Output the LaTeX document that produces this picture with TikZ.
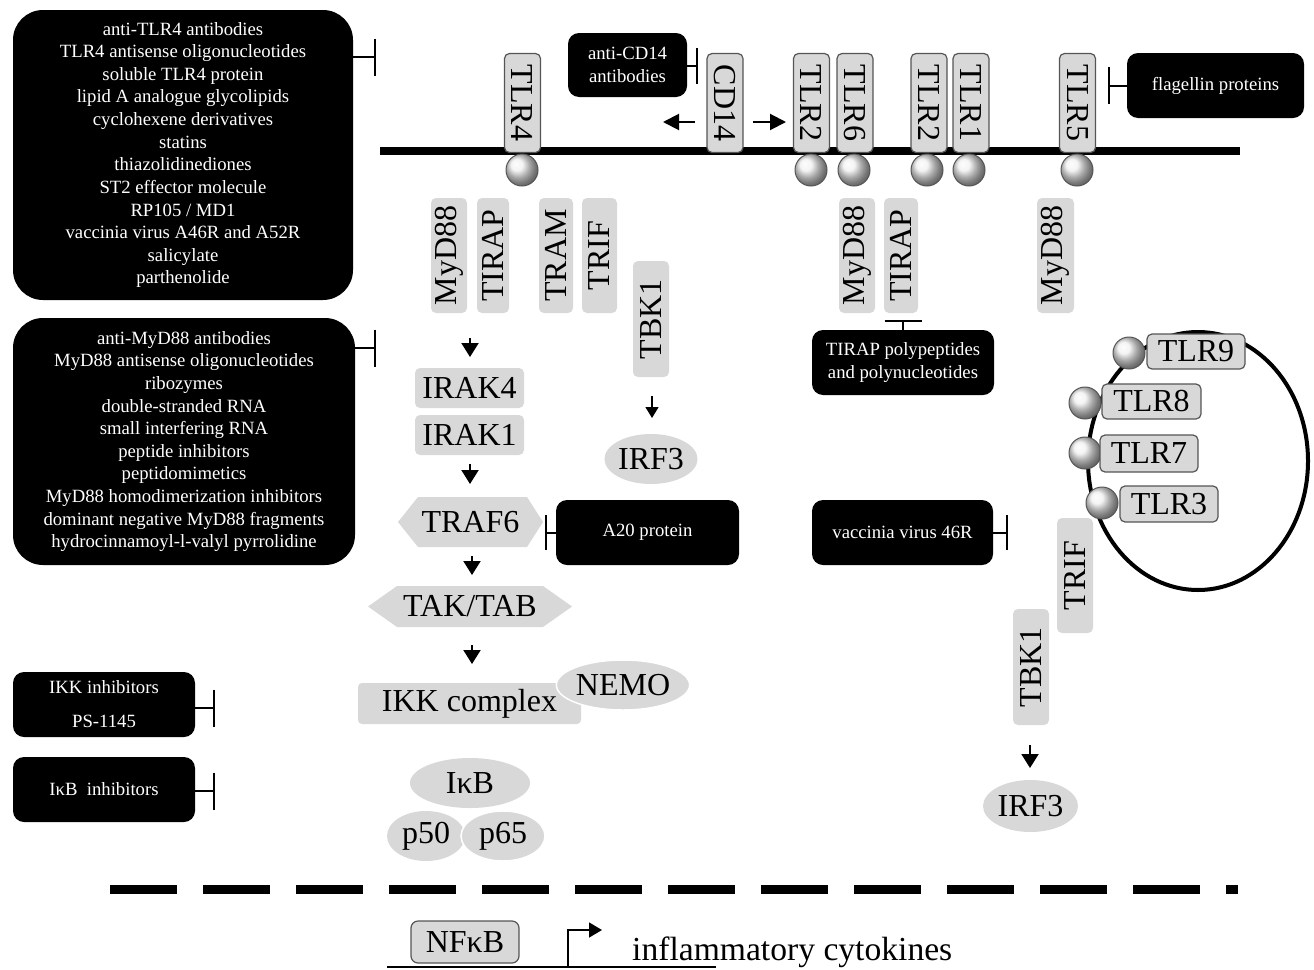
\documentclass[tikz,border=0pt]{standalone}
\usepackage{fontspec}
\setmainfont{Liberation Serif}
\usetikzlibrary{arrows.meta,shapes.geometric,calc}
\definecolor{boxgray}{RGB}{216,216,216}
\definecolor{edgegray}{RGB}{85,85,85}
\newcommand\bigf{\fontsize{32}{36}\selectfont}
\newcommand\smf{\fontsize{18.7}{22.6}\selectfont}
\tikzset{
 blk/.style={fill=black, text=white, font=\smf, align=center, inner sep=0pt, rounded corners=11pt},
 rec/.style={draw=edgegray, line width=1.2pt, fill=boxgray, rounded corners=5pt, font=\bigf, inner sep=0pt},
 adp/.style={fill=boxgray, rounded corners=5pt, font=\bigf, inner sep=0pt},
 vert/.style={rotate=-90},
 vertup/.style={rotate=90},
 ballnode/.style={circle, draw=edgegray, line width=1pt, shading=ball, ball color=gray!12, minimum size=32pt, inner sep=0pt},
 oval/.style={ellipse, fill=boxgray, font=\bigf, inner sep=0pt},
 arr/.style={line width=2pt, -{Triangle[width=17pt,length=14pt]}},
 arrs/.style={line width=1.5pt, -{Triangle[width=13pt,length=11pt]}},
 tee/.style={line width=2pt, -{Bar[width=37pt,line width=2pt]}},
}
\begin{document}
\begin{tikzpicture}[x=1pt,y=-1pt]
\useasboundingbox (0,0) rectangle (1314,969);
% membrane
\coordinate (memL) at (380,151);
\coordinate (memR) at (1240,151);
\draw[line width=8pt] (memL) -- (memR);

% inhibitor boxes (black)
\node[blk, rounded corners=30pt, minimum width=340pt, minimum height=290pt] (inhTLR) at (183,155) {anti-TLR4 antibodies\\TLR4 antisense oligonucleotides\\soluble TLR4 protein\\lipid A analogue glycolipids\\cyclohexene derivatives\\statins\\thiazolidinediones\\ST2 effector molecule\\RP105 / MD1\\vaccinia virus A46R and A52R\\salicylate\\parthenolide};
\node[blk, rounded corners=30pt, minimum width=342pt, minimum height=247pt] (inhMyD) at (184,441.5) {anti-MyD88 antibodies\\MyD88 antisense oligonucleotides\\ribozymes\\double-stranded RNA\\small interfering RNA\\peptide inhibitors\\peptidomimetics\\MyD88 homodimerization inhibitors\\dominant negative MyD88 fragments\\hydrocinnamoyl-l-valyl pyrrolidine};
\node[blk, minimum width=182pt, minimum height=65pt] (inhIKK) at (104,704.5) {IKK inhibitors\\[11.4pt]PS-1145};
\node[blk, minimum width=182pt, minimum height=65pt] (inhIkB) at (104,789.5) {I\char"03BA B\ \ inhibitors};
\node[blk, minimum width=119pt, minimum height=64pt] (antiCD) at (627.5,65) {anti-CD14\\antibodies};
\node[blk, minimum width=177pt, minimum height=65pt] (flag) at (1215.5,85.5) {flagellin proteins};
\node[blk, minimum width=182pt, minimum height=65pt] (tirpoly) at (903,362.5) {TIRAP polypeptides\\and polynucleotides};
\node[blk, minimum width=183pt, minimum height=65pt] (a20) at (647.5,532.5) {A20 protein};
\node[blk, minimum width=181pt, minimum height=65pt] (vac) at (902.5,532.5) {vaccinia virus 46R};

% membrane receptors
\foreach \n/\x/\t in {tlr4/522.5/TLR4, cd14/725/CD14, tlr2a/811.5/TLR2, tlr6/855/TLR6, tlr2b/929/TLR2, tlr1/971/TLR1, tlr5/1077.5/TLR5}{
  \node[rec, vert, minimum width=99pt, minimum height=36pt] (\n) at (\x,103) {\t};
}
\foreach \n/\x in {b4/522, b2a/811, b6/854, b2b/927, b1/969, b5/1077}{
  \node[ballnode] (\n) at (\x,170) {};
}

% adaptors
\node[adp, vertup, minimum width=115pt, minimum height=36pt] (myd1) at (449,255.5) {MyD88};
\node[adp, vertup, minimum width=115pt, minimum height=32pt] (tirap1) at (493,255.5) {TIRAP};
\node[adp, vertup, minimum width=115pt, minimum height=34pt] (tram) at (556,255.5) {TRAM};
\node[adp, vertup, minimum width=115pt, minimum height=35pt] (trif1) at (599.5,255.5) {TRIF};
\node[adp, vertup, minimum width=116pt, minimum height=36pt] (tbk1) at (651,319) {TBK1};
\node[adp, vertup, minimum width=115pt, minimum height=36pt] (myd2) at (857,255.5) {MyD88};
\node[adp, vertup, minimum width=115pt, minimum height=34pt] (tirap2) at (901,255.5) {TIRAP};
\node[adp, vertup, minimum width=115pt, minimum height=37pt] (myd3) at (1055.5,255.5) {MyD88};
\node[adp, vertup, minimum width=115pt, minimum height=36pt] (trif2) at (1075,575.5) {TRIF};
\node[adp, vertup, minimum width=116pt, minimum height=36pt] (tbk2) at (1031,667) {TBK1};

% MyD88 cascade
\node[adp, minimum width=109pt, minimum height=40pt] (irak4) at (469.5,388) {IRAK4};
\node[adp, minimum width=109pt, minimum height=40pt] (irak1) at (469.5,435) {IRAK1};
\fill[boxgray] (398,522) -- (418,497) -- (527,497) -- (543,522) -- (527,547) -- (418,547) -- cycle;
\node[font=\bigf, inner sep=0pt] (traf6) at (470.5,522) {TRAF6};
\fill[boxgray] (368,606.5) -- (397,586) -- (543,586) -- (572,606.5) -- (543,627) -- (397,627) -- cycle;
\node[font=\bigf, inner sep=0pt] (tak) at (470,606.5) {TAK/TAB};
\node[adp, rounded corners=4pt, minimum width=223pt, minimum height=41pt] (ikk) at (469.5,703.5) {IKK complex};
\node[oval, draw=white, line width=1.5pt, minimum width=110pt, minimum height=50pt] (nemo) at (623,685) {NEMO};
\node[oval, minimum width=120pt, minimum height=50pt] (ikb) at (470,783) {I\char"03BA B};
\node[oval, minimum width=78pt, minimum height=50pt] (p50) at (426,836) {p50};
\node[oval, draw=white, line width=1.5pt, minimum width=84pt, minimum height=50pt] (p65) at (503,836) {p65};
\node[oval, minimum width=92pt, minimum height=50pt] (irf3a) at (651,459) {IRF3};
\node[oval, minimum width=95pt, minimum height=52pt] (irf3b) at (1030.5,806) {IRF3};

% endosome
\draw[line width=4pt] (1198,461) ellipse [x radius=110, y radius=129];
\node[ballnode] (b9) at (1129,353) {};
\node[ballnode] (b8) at (1085,403) {};
\node[ballnode] (b7) at (1085,453) {};
\node[ballnode] (b3) at (1102,503) {};
\node[rec, minimum width=98pt, minimum height=35pt] (tlr9) at (1196,351.5) {TLR9};
\node[rec, minimum width=99pt, minimum height=35pt] (tlr8) at (1151.5,401.5) {TLR8};
\node[rec, minimum width=98pt, minimum height=37pt] (tlr7) at (1149,453.5) {TLR7};
\node[rec, minimum width=98pt, minimum height=36pt] (tlr3) at (1169,504) {TLR3};

% activation arrows
\coordinate (cdl1) at (695,122); \coordinate (cdl2) at (663,122);
\coordinate (cdr1) at (753,122); \coordinate (cdr2) at (786,122);
\draw[line width=2pt, -{Triangle[width=16pt,length=16pt]}] (cdl1) -- (cdl2);
\draw[line width=2pt, -{Triangle[width=16pt,length=16pt]}] (cdr1) -- (cdr2);
\coordinate (a1) at (470,338); \coordinate (a1e) at (470,357);
\draw[arr] (a1) -- (a1e);
\coordinate (a2) at (470,464); \coordinate (a2e) at (470,484);
\draw[arr] (a2) -- (a2e);
\coordinate (a3) at (472,556); \coordinate (a3e) at (472,575);
\draw[arr] (a3) -- (a3e);
\coordinate (a4) at (472,645); \coordinate (a4e) at (472,664);
\draw[arr] (a4) -- (a4e);
\coordinate (a5) at (652,396); \coordinate (a5e) at (652,418);
\draw[arrs] (a5) -- (a5e);
\coordinate (a6) at (1030,745); \coordinate (a6e) at (1030,768);
\draw[arr] (a6) -- (a6e);

% inhibition tees
\coordinate (t1) at (376,57);
\draw[tee] (inhTLR.east |- t1) -- (t1);
\coordinate (t2) at (376,348);
\draw[tee] (inhMyD.east |- t2) -- (t2);
\coordinate (t3) at (215,708);
\draw[tee] (inhIKK.east |- t3) -- (t3);
\coordinate (t4) at (215,791);
\draw[tee] (inhIkB.east |- t4) -- (t4);
\coordinate (t5) at (697.5,66);
\draw[line width=2pt, -{Bar[width=36pt,line width=2pt]}] (antiCD.east |- t5) -- (t5);
\coordinate (t6) at (1108,85.5);
\draw[tee] (flag.west |- t6) -- (t6);
\coordinate (t7) at (903,320);
\draw[tee] (tirpoly.north) -- (t7);
\coordinate (t8) at (545,532.5);
\draw[line width=2pt, -{Bar[width=35pt,line width=2pt]}] (a20.west) -- (t8);
\coordinate (t9) at (1008,532.5);
\draw[line width=2pt, -{Bar[width=35pt,line width=2pt]}] (vac.east) -- (t9);

% nucleus border
\coordinate (nl) at (110,889); \coordinate (nr) at (1238,889);
\draw[line width=9pt, dash pattern=on 67pt off 26pt] (nl) -- (nr);

% gene
\coordinate (gl) at (387,967); \coordinate (gr) at (716,967);
\draw[line width=1.5pt] (gl) -- (gr);
\node[rec, rounded corners=7pt, minimum width=108pt, minimum height=42pt] (nfkb) at (465,942) {NF\char"03BA B};
\coordinate (prom) at (568,967); \coordinate (promhead) at (602,930);
\draw[line width=1.5pt, -{Triangle[width=15pt,length=13pt]}] (prom) |- (promhead);
\node[font=\fontsize{33.6}{38}\selectfont, anchor=base west, inner sep=0pt] (cyt) at (632,960) {inflammatory cytokines};
\end{tikzpicture}
\end{document}
